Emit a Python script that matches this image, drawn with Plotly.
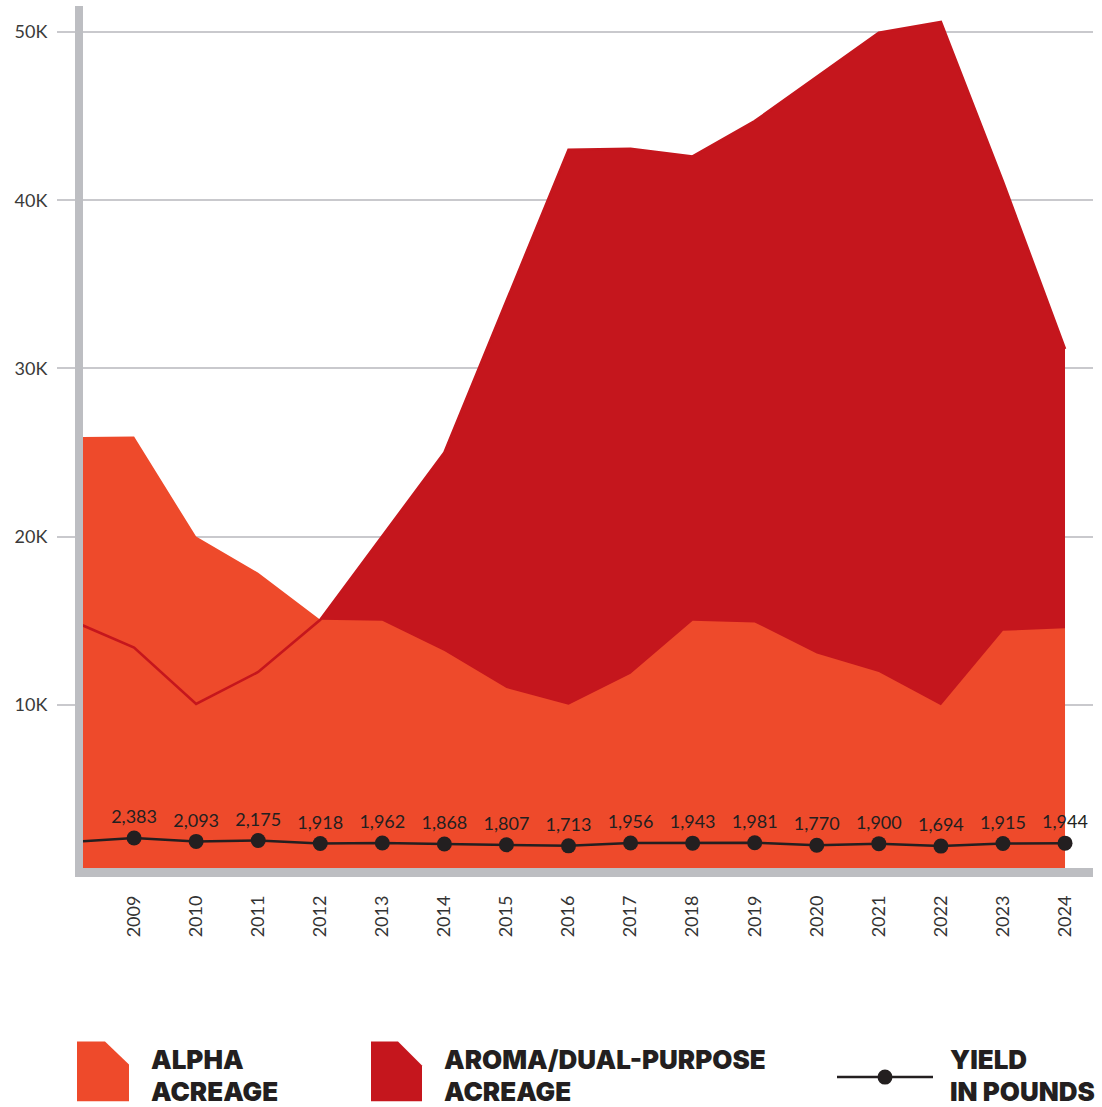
import plotly.graph_objects as go

# ---------------- data ----------------
years = list(range(2008, 2025))
alpha_acres = [25910, 25950, 20000, 17850, 15050, 15000, 13200, 11000, 10000,
               11850, 15000, 14900, 13050, 11950, 9970, 14400, 14550]
aroma_acres = [15000, 13400, 10050, 11950, 15050, 20000, 25000, 34000, 43000,
               43050, 42600, 44700, 47300, 49950, 50600, 41100, 31150]
yield_lbs = [2050, 2383, 2093, 2175, 1918, 1962, 1868, 1807, 1713,
             1956, 1943, 1981, 1770, 1900, 1694, 1915, 1944]
yield_labels = ["", "2,383", "2,093", "2,175", "1,918", "1,962", "1,868", "1,807",
                "1,713", "1,956", "1,943", "1,981", "1,770", "1,900", "1,694",
                "1,915", "1,944"]
x_tick_years = list(range(2009, 2025))
x_tick_text = [str(y) for y in x_tick_years]
y_tick_vals = [10000, 20000, 30000, 40000, 50000]
y_tick_text = ["10K", "20K", "30K", "40K", "50K"]
legend_names = [["ALPHA", "ACREAGE"], ["AROMA/DUAL-PURPOSE", "ACREAGE"], ["YIELD", "IN POUNDS"]]

# ---------------- style ----------------
ALPHA_C = "#EE4A2B"
AROMA_C = "#C5161D"
BLACK = "#231F20"
AXIS_GREY = "#BDBEC2"
GRID_GREY = "#C9C9CD"
W, H = 1102, 1107
L, R, T, B = 83, 1093, 6, 873.5   # plot area in pixels


def px(xp):
    return (xp - L) / (R - L)


def py(yp):
    return (B - yp) / (B - T)


fig = go.Figure()

fig.add_trace(go.Scatter(x=years, y=aroma_acres, mode="lines", fill="tozeroy",
                         fillcolor=AROMA_C, line=dict(color=AROMA_C, width=0),
                         hoverinfo="skip", showlegend=False))
fig.add_trace(go.Scatter(x=years, y=alpha_acres, mode="lines", fill="tozeroy",
                         fillcolor=ALPHA_C, line=dict(color=ALPHA_C, width=0),
                         hoverinfo="skip", showlegend=False))
fig.add_trace(go.Scatter(x=years, y=aroma_acres, mode="lines",
                         line=dict(color=AROMA_C, width=2.6),
                         hoverinfo="skip", showlegend=False))
fig.add_trace(go.Scatter(x=years, y=yield_lbs, yaxis="y2", mode="lines+markers+text",
                         line=dict(color=BLACK, width=2.5),
                         marker=dict(color=BLACK, size=15),
                         text=yield_labels, textposition="top center",
                         textfont=dict(family="Lato", size=18, color=BLACK),
                         showlegend=False))

# axis bars
fig.add_shape(type="rect", xref="paper", yref="paper",
              x0=px(75), x1=px(83), y0=py(877.5), y1=py(6),
              fillcolor=AXIS_GREY, line=dict(width=0), layer="above")
fig.add_shape(type="rect", xref="paper", yref="paper",
              x0=px(75), x1=px(1093), y0=py(877.5), y1=py(868.5),
              fillcolor=AXIS_GREY, line=dict(width=0), layer="above")


def icon_path(x0, x1, xc, y0, yc, y1):
    pts = [(x0, y0), (xc, y0), (x1, yc), (x1, y1), (x0, y1)]
    return "M " + " L ".join(f"{px(a):.5f},{py(b):.5f}" for a, b in pts) + " Z"


fig.add_shape(type="path", xref="paper", yref="paper",
              path=icon_path(77, 129, 105, 1042, 1065, 1102),
              fillcolor=ALPHA_C, line=dict(width=0))
fig.add_shape(type="path", xref="paper", yref="paper",
              path=icon_path(371, 422, 398, 1042, 1066, 1102),
              fillcolor=AROMA_C, line=dict(width=0))
fig.add_shape(type="line", xref="paper", yref="paper",
              x0=px(837), x1=px(933), y0=py(1077.7), y1=py(1077.7),
              line=dict(color=BLACK, width=2.5))
fig.add_shape(type="circle", xref="paper", yref="paper",
              x0=px(877.5), x1=px(892.5), y0=py(1085.2), y1=py(1070.2),
              fillcolor=BLACK, line=dict(width=0))

legend_x = [148.5, 442, 948]
for xs, lines in zip(legend_x, legend_names):
    for yy, txt in zip([1060.4, 1092.3], lines):
        fig.add_annotation(x=px(xs), y=py(yy), xref="paper", yref="paper",
                           text=txt, showarrow=False, xanchor="left", yanchor="middle",
                           font=dict(family="Inter", size=26, color=BLACK, weight=900))

fig.update_layout(
    width=W, height=H,
    margin=dict(l=L, r=W - R, t=T, b=H - B, pad=0),
    paper_bgcolor="white", plot_bgcolor="white",
    xaxis=dict(range=[2008.177, 2024.451], tickvals=x_tick_years, ticktext=x_tick_text,
               tickangle=-90, showgrid=False, zeroline=False, showline=False,
               ticks="", ticklabelstandoff=18,
               tickfont=dict(family="Lato", size=18, color="#333333")),
    yaxis=dict(range=[0, 51545], tickvals=y_tick_vals, ticktext=y_tick_text,
               showgrid=True, gridcolor=GRID_GREY, gridwidth=1.5, zeroline=False,
               showline=False, ticks="outside", ticklen=25, tickcolor=GRID_GREY,
               tickwidth=1.5, ticklabelstandoff=6,
               tickfont=dict(family="Lato", size=18, color="#3a3a3a")),
    yaxis2=dict(range=[-595, 73142], overlaying="y", side="right", showgrid=False,
                zeroline=False, showticklabels=False, ticks="", showline=False),
)

fig.write_html("out.html", config={"displayModeBar": False},
               post_script="document.body.style.margin='0';")
